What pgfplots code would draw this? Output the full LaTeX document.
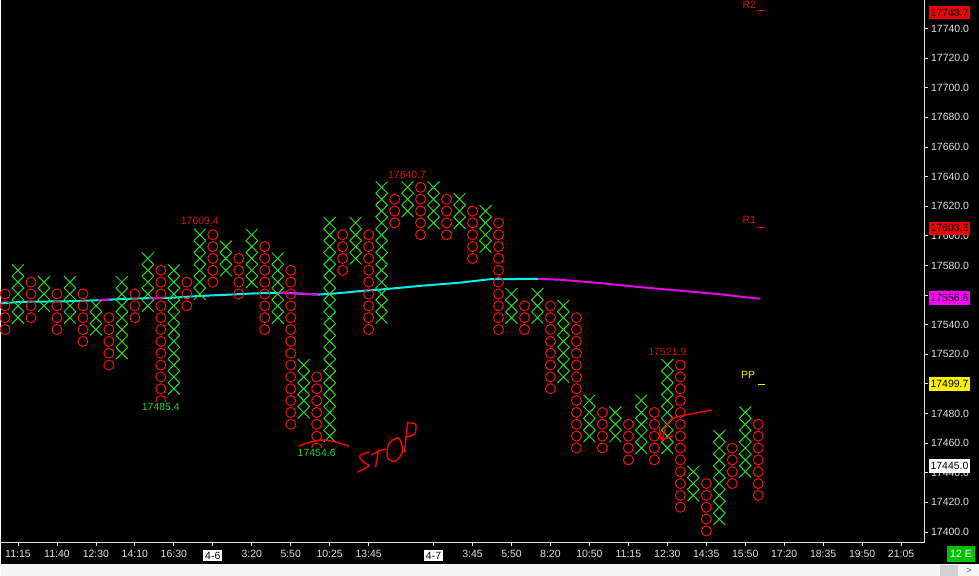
\documentclass[border=0pt]{standalone}
\usepackage{fontspec}
\setmainfont{Liberation Sans}
\usepackage{pgfplots}
\usepackage{pgfplotstable}
\pgfplotsset{compat=1.18}

\definecolor{pfred}{RGB}{235,20,20}
\definecolor{pfgreen}{RGB}{40,215,40}
\definecolor{macyan}{RGB}{0,240,240}
\definecolor{mamag}{RGB}{235,0,235}
\definecolor{axgray}{RGB}{225,225,225}
\definecolor{lblred}{RGB}{215,20,20}
\definecolor{lblgreen}{RGB}{40,205,40}
\definecolor{boxred}{RGB}{240,0,0}
\definecolor{boxmag}{RGB}{255,0,255}

% X columns: column index, box index (box size 8 points)
\pgfplotstableread[row sep=\\]{
col box\\
1 18\\ 1 19\\ 1 20\\ 1 21\\ 1 22\\
3 19\\ 3 20\\ 3 21\\
5 18\\ 5 19\\ 5 20\\ 5 21\\
7 17\\ 7 18\\ 7 19\\
9 15\\ 9 16\\ 9 17\\ 9 18\\ 9 19\\ 9 20\\ 9 21\\
11 19\\ 11 20\\ 11 21\\ 11 22\\ 11 23\\
13 12\\ 13 13\\ 13 14\\ 13 15\\ 13 16\\ 13 17\\ 13 18\\ 13 19\\ 13 20\\ 13 21\\ 13 22\\
15 20\\ 15 21\\ 15 22\\ 15 23\\ 15 24\\ 15 25\\
17 22\\ 17 23\\ 17 24\\
19 21\\ 19 22\\ 19 23\\ 19 24\\ 19 25\\
21 18\\ 21 19\\ 21 20\\ 21 21\\ 21 22\\ 21 23\\
23 10\\ 23 11\\ 23 12\\ 23 13\\ 23 14\\
25 8\\ 25 9\\ 25 10\\ 25 11\\ 25 12\\ 25 13\\ 25 14\\ 25 15\\ 25 16\\ 25 17\\ 25 18\\ 25 19\\ 25 20\\ 25 21\\ 25 22\\ 25 23\\ 25 24\\ 25 25\\ 25 26\\
27 23\\ 27 24\\ 27 25\\ 27 26\\
29 18\\ 29 19\\ 29 20\\ 29 21\\ 29 22\\ 29 23\\ 29 24\\ 29 25\\ 29 26\\ 29 27\\ 29 28\\ 29 29\\
31 27\\ 31 28\\ 31 29\\
33 26\\ 33 27\\ 33 28\\ 33 29\\
35 26\\ 35 27\\ 35 28\\
37 24\\ 37 25\\ 37 26\\ 37 27\\
39 18\\ 39 19\\ 39 20\\
41 18\\ 41 19\\ 41 20\\
43 13\\ 43 14\\ 43 15\\ 43 16\\ 43 17\\ 43 18\\ 43 19\\
45 8\\ 45 9\\ 45 10\\ 45 11\\
47 8\\ 47 9\\ 47 10\\
49 7\\ 49 8\\ 49 9\\ 49 10\\ 49 11\\
51 7\\ 51 8\\ 51 9\\ 51 10\\ 51 11\\ 51 12\\ 51 13\\ 51 14\\
53 3\\ 53 4\\ 53 5\\
55 1\\ 55 2\\ 55 3\\ 55 4\\ 55 5\\ 55 6\\ 55 7\\ 55 8\\
57 5\\ 57 6\\ 57 7\\ 57 8\\ 57 9\\ 57 10\\
}\xboxes

% O columns
\pgfplotstableread[row sep=\\]{
col box\\
0 17\\ 0 18\\ 0 19\\ 0 20\\
2 18\\ 2 19\\ 2 20\\ 2 21\\
4 17\\ 4 18\\ 4 19\\ 4 20\\
6 16\\ 6 17\\ 6 18\\ 6 19\\ 6 20\\
8 14\\ 8 15\\ 8 16\\ 8 17\\ 8 18\\
10 18\\ 10 19\\ 10 20\\
12 11\\ 12 12\\ 12 13\\ 12 14\\ 12 15\\ 12 16\\ 12 17\\ 12 18\\ 12 19\\ 12 20\\ 12 21\\ 12 22\\
14 19\\ 14 20\\ 14 21\\
16 21\\ 16 22\\ 16 23\\ 16 24\\ 16 25\\
18 20\\ 18 21\\ 18 22\\ 18 23\\
20 17\\ 20 18\\ 20 19\\ 20 20\\ 20 21\\ 20 22\\ 20 23\\ 20 24\\
22 9\\ 22 10\\ 22 11\\ 22 12\\ 22 13\\ 22 14\\ 22 15\\ 22 16\\ 22 17\\ 22 18\\ 22 19\\ 22 20\\ 22 21\\ 22 22\\
24 7\\ 24 8\\ 24 9\\ 24 10\\ 24 11\\ 24 12\\ 24 13\\
26 22\\ 26 23\\ 26 24\\ 26 25\\
28 17\\ 28 18\\ 28 19\\ 28 20\\ 28 21\\ 28 22\\ 28 23\\ 28 24\\ 28 25\\
30 26\\ 30 27\\ 30 28\\
32 25\\ 32 26\\ 32 27\\ 32 28\\ 32 29\\
34 25\\ 34 26\\ 34 27\\ 34 28\\
36 23\\ 36 24\\ 36 25\\ 36 26\\ 36 27\\
38 17\\ 38 18\\ 38 19\\ 38 20\\ 38 21\\ 38 22\\ 38 23\\ 38 24\\ 38 25\\ 38 26\\
40 17\\ 40 18\\ 40 19\\
42 12\\ 42 13\\ 42 14\\ 42 15\\ 42 16\\ 42 17\\ 42 18\\ 42 19\\
44 7\\ 44 8\\ 44 9\\ 44 10\\ 44 11\\ 44 12\\ 44 13\\ 44 14\\ 44 15\\ 44 16\\ 44 17\\ 44 18\\
46 7\\ 46 8\\ 46 9\\ 46 10\\
48 6\\ 48 7\\ 48 8\\ 48 9\\
50 6\\ 50 7\\ 50 8\\ 50 9\\ 50 10\\
52 2\\ 52 3\\ 52 4\\ 52 5\\ 52 6\\ 52 7\\ 52 8\\ 52 9\\ 52 10\\ 52 11\\ 52 12\\ 52 13\\ 52 14\\
54 0\\ 54 1\\ 54 2\\ 54 3\\ 54 4\\
56 4\\ 56 5\\ 56 6\\ 56 7\\
58 3\\ 58 4\\ 58 5\\ 58 6\\ 58 7\\ 58 8\\ 58 9\\
}\oboxes

\begin{document}
\begin{tikzpicture}
\fill[black] (0pt,0pt) rectangle (979pt,576pt);

\begin{axis}[
    scale only axis,
    width=924pt, height=543pt,
    at={(0pt,33pt)}, anchor=south west,
    xmin=-0.3077, xmax=70.769,
    ymin=17392.58, ymax=17758.87,
    axis x line*=bottom, axis y line*=right,
    axis line style={axgray, line width=1pt},
    tick style={axgray, line width=0.8pt},
    tick align=outside,
    major tick length=3.5pt,
    scaled y ticks=false,
    ytick={17400,17420,...,17740},
    yticklabel style={font=\fontsize{10.5}{12}\selectfont, text=axgray,
        /pgf/number format/.cd, fixed, fixed zerofill, precision=1, 1000 sep={},
        assume math mode=true},
    xtick={1,4,7,10,13,16,19,22,25,28,33,36,39,42,45,48,51,54,57,60,63,66,69},
    xticklabels={11:15,11:40,12:30,14:10,16:30,
        {\setlength{\fboxsep}{2pt}\colorbox{white}{\textcolor{black}{4-6}}},
        3:20,5:50,10:25,13:45,
        {\setlength{\fboxsep}{2pt}\colorbox{white}{\textcolor{black}{4-7}}},
        3:45,5:50,8:20,10:50,11:15,12:30,14:35,15:50,17:20,18:35,19:50,21:05},
    xticklabel style={font=\fontsize{10.5}{12}\selectfont, text=axgray},
]
% O columns
\addplot[only marks, mark=o, mark size=5pt,
    mark options={draw=pfred, line width=1pt}]
    table[x=col, y expr=17400.7+8*\thisrow{box}] {\oboxes};
% X columns
\addplot[only marks, mark=x, mark size=8.4pt,
    mark options={draw=pfgreen, line width=1pt}]
    table[x=col, y expr=17400.7+8*\thisrow{box}] {\xboxes};

% moving average
\addplot[macyan, line width=2pt] coordinates {
    (-0.31,17554.3) (1.23,17555.4) (3.15,17555.6) (5.08,17555.8) (7.15,17556.5)
    (9.31,17557.4) (11.23,17557.9) (12.77,17558.1) (14.31,17559.0) (15.85,17559.7)
    (17.38,17560.3) (18.92,17561.0) (20.31,17561.4) (21.62,17561.6) (22.77,17560.9)
    (24.15,17560.3) (25.08,17560.8) (26.23,17561.7) (27.77,17563.0) (28.92,17563.7)
    (30.08,17564.6) (32.0,17566.2) (35.08,17568.4) (37.38,17570.7) (41.08,17570.9)
};
\addplot[mamag, line width=2pt] coordinates {
    (41.08,17570.9) (42.77,17570.3) (45.85,17568.0) (48.92,17565.3) (52.0,17562.9)
    (55.08,17560.5) (57.0,17558.5) (58.15,17557.5)
};
\addplot[mamag, line width=2pt] coordinates {(7.15,17556.5) (8.0,17556.9)};
\addplot[mamag, line width=2pt] coordinates {(11.08,17557.8) (12.08,17558.0)};
\addplot[mamag, line width=2pt] coordinates {(21.0,17561.5) (22.77,17560.9) (24.15,17560.3)};
\end{axis}

% overlays in pixel coordinates (origin top left)
\begin{scope}[shift={(0pt,576pt)}, x=1pt, y=-1pt,
    every node/.style={font=\fontsize{10.5}{12}\selectfont, inner sep=0pt}]
  % value labels (drawn on a black ground, over the boxes)
  \node[text=lblred, fill=black, inner sep=1pt] at (199,221) {17609.4};
  \node[text=lblred, fill=black, inner sep=1pt] at (406.5,175) {17640.7};
  \node[text={rgb,255:red,195;green,10;blue,10}, fill=black, inner sep=1pt] at (667,352) {17521.9};
  \node[text=lblgreen, fill=black, inner sep=1pt] at (160,406.5) {17485.4};
  \node[text=lblgreen, fill=black, inner sep=1pt] at (316,452.5) {17454.6};
  % pivot levels
  \node[text=lblred] at (749,4) {R2};
  \draw[lblred, line width=1pt] (758,10) -- (765,10);
  \node[text=lblred] at (749,220) {R1};
  \draw[lblred, line width=1pt] (758,227) -- (765,227);
  \node[text=yellow] at (748,375) {PP};
  \draw[yellow, line width=1pt] (758,384) -- (765,384);
  % price boxes on the right scale
  \node[fill=boxred, text=black, minimum width=41pt, minimum height=13.5pt] at (949.5,12) {17748.7};
  \node[fill=boxred, text=black, minimum width=41pt, minimum height=13.5pt] at (949.5,228) {17603.3};
  \node[fill=boxmag, text=black, minimum width=41pt, minimum height=13.5pt] at (949.5,298) {17556.6};
  \node[fill=yellow, text=black, minimum width=41pt, minimum height=13.5pt] at (949.5,384) {17499.7};
  \node[fill=white, text=black, minimum width=41pt, minimum height=13.5pt] at (949.5,466) {17445.0};
  \node[fill={rgb,255:red,0;green,195;blue,0}, text=white, minimum width=28pt, minimum height=16pt] at (961,554) {12 E};
  % scroll bar strip
  \fill[gray!8] (0,564) rectangle (979,576);
  \fill[gray!35] (940,565) rectangle (958,576);
  \node[text=gray!70!black] at (969,570.5) {\fontsize{9}{9}\selectfont >};
  % hand-drawn annotations
  \begin{scope}[red, line width=1.4pt, line cap=round, line join=round]
    \draw plot[smooth, tension=0.7] coordinates {(298,446) (322,440) (348,446)};
    \draw plot[smooth] coordinates {(368,452) (359,456) (363,462) (368,466) (357,472)};
    \draw (375,467) -- (378,450);
    \draw plot[smooth] coordinates {(371,455) (378,451) (385,449)};
    \draw plot[smooth cycle] coordinates {(398,438) (388,444) (387,458) (395,461) (402,451)};
    \draw (404,452) -- (407,422);
    \draw plot[smooth] coordinates {(407,423) (415,424) (414,434) (405,437)};
    \draw plot[smooth] coordinates {(711,410) (690,414) (673,418) (666,426) (662,440)};
    \draw (659,427) -- (661,440) -- (672,436);
  \end{scope}
\end{scope}
\end{tikzpicture}
\end{document}
